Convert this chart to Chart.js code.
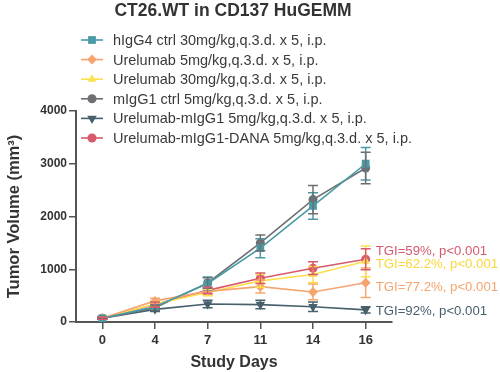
<!DOCTYPE html>
<html>
<head>
<meta charset="utf-8">
<script src="https://cdn.jsdelivr.net/npm/chart.js@4"></script>
<style>
  html, body { margin: 0; padding: 0; background: #fff; }
  #wrap { width: 500px; height: 372px; position: relative; }
</style>
</head>
<body>
<div id="wrap"><canvas id="tumorChart" width="500" height="372"></canvas></div>
<script>
// study days
const days = ['0', '4', '7', '11', '14', '16'];

// mean tumor volume per group
const higg4Ctrl = [70, 290, 730, 1400, 2200, 3000];
const urel5 = [70, 400, 580, 670, 570, 745];
const urel30 = [70, 340, 560, 780, 900, 1150];
const migg1Ctrl = [70, 270, 740, 1500, 2320, 2920];
const urelMigg1 = [70, 240, 340, 330, 290, 230];
const urelDana = [70, 330, 600, 830, 1020, 1190];

// SEM
const higg4Err = [20, 60, 125, 180, 250, 310];
const urel5Err = [20, 50, 60, 120, 150, 280];
const urel30Err = [20, 50, 60, 120, 150, 290];
const migg1Err = [20, 50, 100, 150, 270, 300];
const urelMigg1Err = [15, 40, 70, 80, 90, 60];
const urelDanaErr = [20, 50, 60, 100, 120, 200];

const groupNames = [
    'hIgG4 ctrl 30mg/kg,q.3.d. x 5, i.p.',
    'Urelumab 5mg/kg,q.3.d. x 5, i.p.',
    'Urelumab 30mg/kg,q.3.d. x 5, i.p.',
    'mIgG1 ctrl 5mg/kg,q.3.d. x 5, i.p.',
    'Urelumab-mIgG1 5mg/kg,q.3.d. x 5, i.p.',
    'Urelumab-mIgG1-DANA 5mg/kg,q.3.d. x 5, i.p.'
];

// TGI labels at day 16
const tgiLabels = ['TGI=59%, p<0.001', 'TGI=62.2%, p<0.001', 'TGI=77.2%, p<0.001', 'TGI=92%, p<0.001'];
const tgiLevels = [1330, 1100, 660, 210];

const colors = ['#4a9aa6', '#f6a56f', '#fde050', '#6e6f73', '#47606c', '#d65a6c'];
const tgiColors = ['#d65a6c', '#f8d73a', '#f6a56f', '#47606c'];
const styles = ['rect', 'rectRot', 'triangle', 'circle', 'triangle', 'circle'];
const rotations = [0, 0, 0, 0, 180, 0];
const radii = [5.5, 5, 5, 4.5, 5.5, 4.5];

const series = [higg4Ctrl, urel5, urel30, migg1Ctrl, urelMigg1, urelDana];
const errors = [higg4Err, urel5Err, urel30Err, migg1Err, urelMigg1Err, urelDanaErr];

const datasets = series.map((d, i) => ({
    label: groupNames[i],
    data: d,
    errors: errors[i],
    borderColor: colors[i],
    backgroundColor: colors[i],
    borderWidth: 1.6,
    pointStyle: styles[i],
    pointRotation: rotations[i],
    pointRadius: radii[i],
    pointBorderWidth: 0,
    tension: 0
}));

// error bars
const errorBars = {
    id: 'errorBars',
    afterDatasetsDraw(chart) {
        const ctx = chart.ctx;
        const y = chart.scales.y;
        chart.data.datasets.forEach((ds, i) => {
            const meta = chart.getDatasetMeta(i);
            ctx.save();
            ctx.strokeStyle = ds.borderColor;
            ctx.lineWidth = 1.5;
            meta.data.forEach((pt, j) => {
                const e = ds.errors[j];
                const top = y.getPixelForValue(ds.data[j] + e);
                const bot = y.getPixelForValue(ds.data[j] - e);
                ctx.beginPath();
                ctx.moveTo(pt.x, top); ctx.lineTo(pt.x, bot);
                ctx.moveTo(pt.x - 5, top); ctx.lineTo(pt.x + 5, top);
                ctx.moveTo(pt.x - 5, bot); ctx.lineTo(pt.x + 5, bot);
                ctx.stroke();
            });
            ctx.restore();
        });
    }
};

// title, legend and TGI text
const extras = {
    id: 'extras',
    afterDraw(chart) {
        const ctx = chart.ctx;
        ctx.save();
        ctx.fillStyle = '#333';
        ctx.font = 'bold 17.5px "Liberation Sans", Arial, sans-serif';
        ctx.textAlign = 'center';
        ctx.textBaseline = 'middle';
        ctx.fillText('CT26.WT in CD137 HuGEMM', 233, 11);

        ctx.font = '14.5px "Liberation Sans", Arial, sans-serif';
        ctx.textAlign = 'left';
        chart.data.datasets.forEach((ds, i) => {
            const ly = 40 + i * 19.6;
            ctx.strokeStyle = ds.borderColor;
            ctx.lineWidth = 1.6;
            ctx.beginPath();
            ctx.moveTo(81, ly); ctx.lineTo(103, ly);
            ctx.stroke();
            ctx.fillStyle = ds.borderColor;
            Chart.helpers.drawPoint(ctx, {
                pointStyle: ds.pointStyle, rotation: ds.pointRotation,
                radius: ds.pointRadius, borderWidth: 0
            }, 92, ly);
            ctx.fillStyle = '#3a3a3a';
            ctx.fillText(ds.label, 113, ly + 1);
        });

        ctx.font = '13.2px "Liberation Sans", Arial, sans-serif';
        const x = chart.scales.x.getPixelForValue(days.length - 1) + 10;
        tgiLabels.forEach((t, i) => {
            ctx.fillStyle = tgiColors[i];
            ctx.fillText(t, x, chart.scales.y.getPixelForValue(tgiLevels[i]));
        });
        ctx.restore();
    }
};

new Chart(document.getElementById('tumorChart'), {
    type: 'line',
    data: { labels: days, datasets: datasets },
    options: {
        responsive: false,
        animation: false,
        layout: { padding: { top: 111, right: 108, bottom: 0, left: 0 } },
        plugins: { legend: { display: false }, tooltip: { enabled: false } },
        scales: {
            x: {
                offset: true,
                grid: { display: true, drawOnChartArea: false, drawTicks: true, tickLength: 7, color: '#555', lineWidth: 1.5, offset: false },
                border: { display: true, color: '#555', width: 2 },
                ticks: { color: '#333', font: { family: '"Liberation Sans", Arial', size: 13, weight: 'bold' }, padding: 4 },
                title: { display: true, text: 'Study Days', color: '#333', font: { family: '"Liberation Sans", Arial', size: 16, weight: 'bold' }, padding: { top: 4, bottom: 0 } },
                afterFit(scale) { scale.height = 50; }
            },
            y: {
                min: 0,
                max: 4000,
                grid: { display: true, drawOnChartArea: false, drawTicks: true, tickLength: 7, color: '#555', lineWidth: 1.5 },
                border: { display: true, color: '#555', width: 2 },
                ticks: {
                    stepSize: 1000, color: '#333', padding: 2,
                    font: { family: '"Liberation Sans", Arial', size: 12, weight: 'bold' },
                    callback: (v) => String(v)
                },
                title: { display: true, text: 'Tumor Volume (mm³)', color: '#333', font: { family: '"Liberation Sans", Arial', size: 16.5, weight: 'bold' }, padding: { top: 5, bottom: 4 } },
                afterFit(scale) { scale.width = 76; }
            }
        }
    },
    plugins: [errorBars, extras]
});
</script>
</body>
</html>
